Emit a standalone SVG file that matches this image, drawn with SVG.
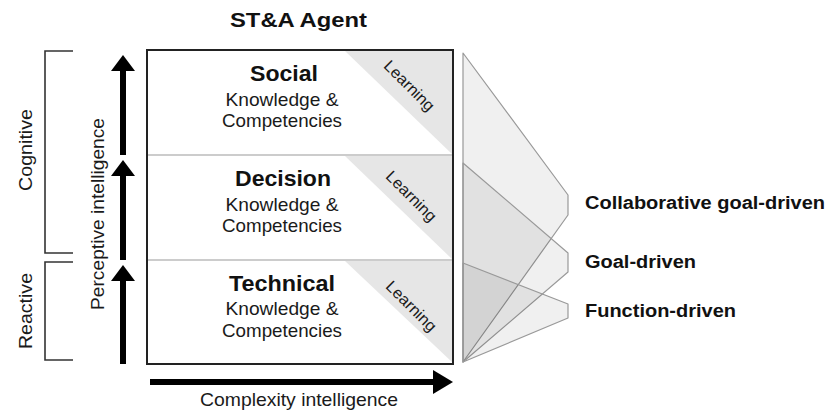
<svg xmlns="http://www.w3.org/2000/svg" width="829" height="412" viewBox="0 0 829 412">
<defs>
<style>
text{font-family:"Liberation Sans",Arial,sans-serif;fill:#111}
.b{font-weight:bold}
.t{font-size:22px;font-weight:bold;text-anchor:middle}
.k{font-size:19px;text-anchor:middle;fill:#1a1a1a}
.lr{font-size:16px;text-anchor:middle;fill:#1a1a1a}
.lbl{font-size:18px;font-weight:bold}
.ax{font-size:18.5px;text-anchor:middle;fill:#1a1a1a}
.tri{fill:#e6e6e6;stroke:none}
.div{stroke:#999;stroke-width:1}
.br{fill:none;stroke:#333;stroke-width:1.6}
.arr{stroke:#000;stroke-width:6;fill:none}
.sh{fill:#000;fill-opacity:0.06;stroke:#999;stroke-width:1.2;stroke-linejoin:round}
</style>
<marker id="ah" markerUnits="userSpaceOnUse" markerWidth="16" markerHeight="24" viewBox="0 0 16 24" refX="0" refY="12" orient="auto">
<path d="M0,0 L16,12 L0,24 Z" fill="#000"/>
</marker>
<marker id="ahh" markerUnits="userSpaceOnUse" markerWidth="20" markerHeight="24" viewBox="0 0 20 24" refX="0" refY="12" orient="auto">
<path d="M0,0 L20,12 L0,24 Z" fill="#000"/>
</marker>
</defs>
<rect width="829" height="412" fill="#fff"/>

<text class="b" x="230" y="27" font-size="19.5" textLength="137" lengthAdjust="spacingAndGlyphs">ST&amp;A Agent</text>

<g id="agent">
<rect x="147" y="50" width="306" height="314" fill="#fff" stroke="#222" stroke-width="2"/>
<line class="div" x1="148" y1="155" x2="452" y2="155"/>
<line class="div" x1="148" y1="260" x2="452" y2="260"/>
</g>

<g id="social">
<polygon class="tri" points="345,51 452,51 452,154"/>
<text class="t" x="284" y="81" textLength="68" lengthAdjust="spacingAndGlyphs">Social</text>
<text class="k" x="282" y="106" textLength="113" lengthAdjust="spacingAndGlyphs">Knowledge &amp;</text>
<text class="k" x="282" y="127" textLength="120" lengthAdjust="spacingAndGlyphs">Competencies</text>
<text class="lr" transform="translate(405.5,89.5) rotate(45)" textLength="64" lengthAdjust="spacingAndGlyphs">Learning</text>
</g>

<g id="decision">
<polygon class="tri" points="345,156 452,156 452,259"/>
<text class="t" x="283" y="186" textLength="96" lengthAdjust="spacingAndGlyphs">Decision</text>
<text class="k" x="282" y="211" textLength="113" lengthAdjust="spacingAndGlyphs">Knowledge &amp;</text>
<text class="k" x="282" y="232" textLength="120" lengthAdjust="spacingAndGlyphs">Competencies</text>
<text class="lr" transform="translate(407.5,200) rotate(45)" textLength="64" lengthAdjust="spacingAndGlyphs">Learning</text>
</g>

<g id="technical">
<polygon class="tri" points="345,261 452,261 452,362"/>
<text class="t" x="282" y="291" textLength="106" lengthAdjust="spacingAndGlyphs">Technical</text>
<text class="k" x="282" y="315" textLength="113" lengthAdjust="spacingAndGlyphs">Knowledge &amp;</text>
<text class="k" x="282" y="337" textLength="120" lengthAdjust="spacingAndGlyphs">Competencies</text>
<text class="lr" transform="translate(407.5,310) rotate(45)" textLength="64" lengthAdjust="spacingAndGlyphs">Learning</text>
</g>

<g id="brackets">
<path class="br" d="M73,51 H45 V253 H73"/>
<path class="br" d="M73,262 H45 V360 H73"/>
<text class="ax" transform="translate(32,150) rotate(-90)" textLength="82" lengthAdjust="spacingAndGlyphs">Cognitive</text>
<text class="ax" transform="translate(32,311) rotate(-90)" textLength="76" lengthAdjust="spacingAndGlyphs">Reactive</text>
<text class="ax" transform="translate(104,214) rotate(-90)" textLength="192" lengthAdjust="spacingAndGlyphs">Perceptive intelligence</text>
</g>

<g id="connectors">
<line class="arr" x1="123" y1="155" x2="123" y2="71" marker-end="url(#ah)"/>
<line class="arr" x1="123" y1="260" x2="123" y2="176" marker-end="url(#ah)"/>
<line class="arr" x1="123" y1="364" x2="123" y2="281" marker-end="url(#ah)"/>
<line class="arr" x1="150" y1="382" x2="433" y2="382" stroke-width="5" marker-end="url(#ahh)"/>
</g>
<text class="ax" x="299" y="406" textLength="198" lengthAdjust="spacingAndGlyphs">Complexity intelligence</text>

<g id="collaborative">
<polygon class="sh" points="463,53 568,195 568,215 463,362"/>
<text class="lbl" x="585" y="209" textLength="240" lengthAdjust="spacingAndGlyphs">Collaborative goal-driven</text>
</g>
<g id="goal">
<polygon class="sh" points="463,163 568,253 568,272 463,362"/>
<text class="lbl" x="585" y="268" textLength="111" lengthAdjust="spacingAndGlyphs">Goal-driven</text>
</g>
<g id="function">
<polygon class="sh" points="463,263 568,304 568,318 463,362"/>
<text class="lbl" x="585" y="317" textLength="151" lengthAdjust="spacingAndGlyphs">Function-driven</text>
</g>
</svg>
